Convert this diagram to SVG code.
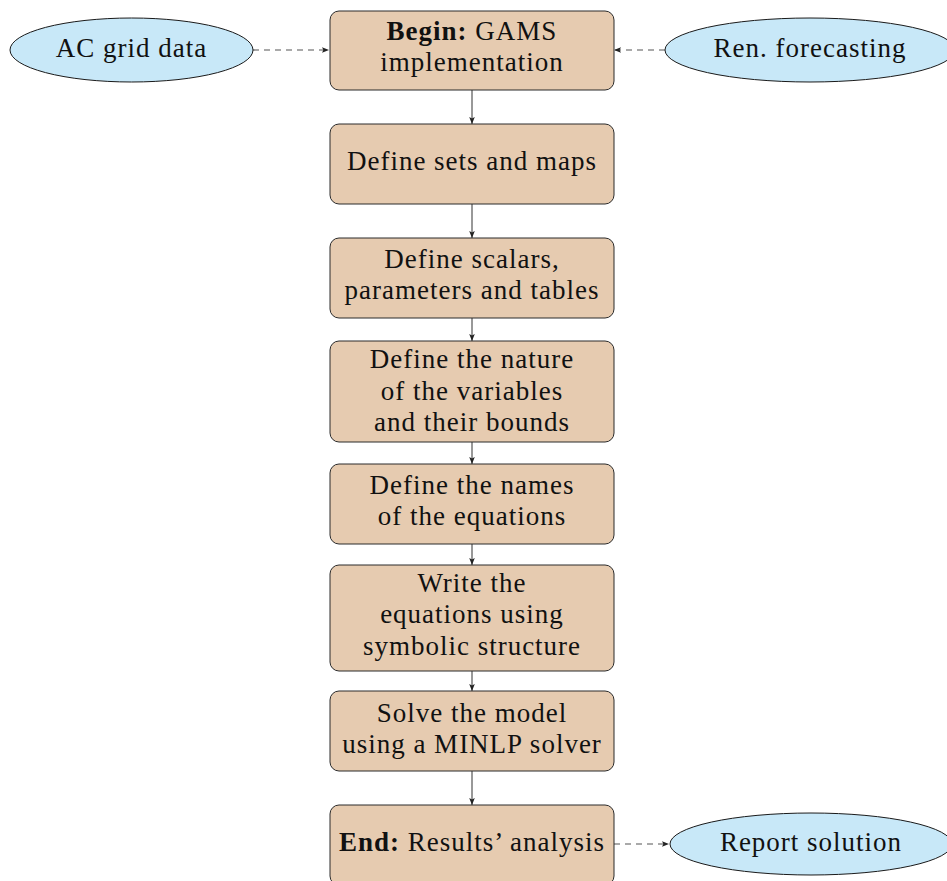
<svg xmlns="http://www.w3.org/2000/svg" width="947" height="881" viewBox="0 0 947 881">
<style>
.box{fill:#E6CBB0;stroke:#2b2b2b;stroke-width:1}
.ell{fill:#C8E8F8;stroke:#1a1a1a;stroke-width:1}
text{font-family:"Liberation Serif","Times New Roman",serif;font-size:27px;letter-spacing:1px;fill:#111;text-anchor:middle}
.b{font-weight:bold}
.solid{stroke:#333;stroke-width:1;fill:none}
.dash{stroke:#555;stroke-width:1.2;fill:none;stroke-dasharray:6 5}
</style>
<defs>
<marker id="ah" viewBox="0 0 10 10" refX="10" refY="5" markerWidth="7" markerHeight="7" markerUnits="userSpaceOnUse" orient="auto">
<path d="M0,1 L10,5 L0,9 L2,5 Z" fill="#222"/>
</marker>
</defs>
<g id="connectors">
<line class="dash" x1="253" y1="50" x2="329" y2="50" marker-end="url(#ah)"/>
<line class="dash" x1="665" y1="50" x2="614" y2="50" marker-end="url(#ah)"/>
<line class="dash" x1="614" y1="844" x2="669" y2="844" marker-end="url(#ah)"/>
<line class="solid" x1="472" y1="90" x2="472" y2="124" marker-end="url(#ah)"/>
<line class="solid" x1="472" y1="204" x2="472" y2="238" marker-end="url(#ah)"/>
<line class="solid" x1="472" y1="318" x2="472" y2="341" marker-end="url(#ah)"/>
<line class="solid" x1="472" y1="442" x2="472" y2="464" marker-end="url(#ah)"/>
<line class="solid" x1="472" y1="544" x2="472" y2="565" marker-end="url(#ah)"/>
<line class="solid" x1="472" y1="671" x2="472" y2="691" marker-end="url(#ah)"/>
<line class="solid" x1="472" y1="771" x2="472" y2="805" marker-end="url(#ah)"/>
</g>
<g id="ac-grid-data">
<ellipse class="ell" cx="131.5" cy="50" rx="121.5" ry="32"/>
<text x="131.5" y="57">AC grid data</text>
</g>
<g id="ren-forecasting">
<ellipse class="ell" cx="810" cy="50" rx="145" ry="32"/>
<text x="810" y="57">Ren. forecasting</text>
</g>
<g id="report-solution">
<ellipse class="ell" cx="811" cy="844" rx="141" ry="31"/>
<text x="811" y="851">Report solution</text>
</g>
<g id="begin">
<rect class="box" x="330" y="11" width="284" height="79" rx="9"/>
<text x="472" y="40"><tspan class="b">Begin:</tspan> GAMS</text>
<text x="472" y="71">implementation</text>
</g>
<g id="sets">
<rect class="box" x="330" y="124" width="284" height="80" rx="9"/>
<text x="472" y="170">Define sets and maps</text>
</g>
<g id="scalars">
<rect class="box" x="330" y="238" width="284" height="80" rx="9"/>
<text x="472" y="268">Define scalars,</text>
<text x="472" y="299">parameters and tables</text>
</g>
<g id="variables">
<rect class="box" x="330" y="341" width="284" height="101" rx="9"/>
<text x="472" y="368">Define the nature</text>
<text x="472" y="400">of the variables</text>
<text x="472" y="431">and their bounds</text>
</g>
<g id="equation-names">
<rect class="box" x="330" y="464" width="284" height="80" rx="9"/>
<text x="472" y="494">Define the names</text>
<text x="472" y="525">of the equations</text>
</g>
<g id="write-equations">
<rect class="box" x="330" y="565" width="284" height="106" rx="9"/>
<text x="472" y="592">Write the</text>
<text x="472" y="623">equations using</text>
<text x="472" y="655">symbolic structure</text>
</g>
<g id="solve">
<rect class="box" x="330" y="691" width="284" height="80" rx="9"/>
<text x="472" y="722">Solve the model</text>
<text x="472" y="753">using a MINLP solver</text>
</g>
<g id="end">
<rect class="box" x="330" y="805" width="284" height="80" rx="9"/>
<text x="472" y="851"><tspan class="b">End:</tspan>  Results’ analysis</text>
</g>
</svg>
